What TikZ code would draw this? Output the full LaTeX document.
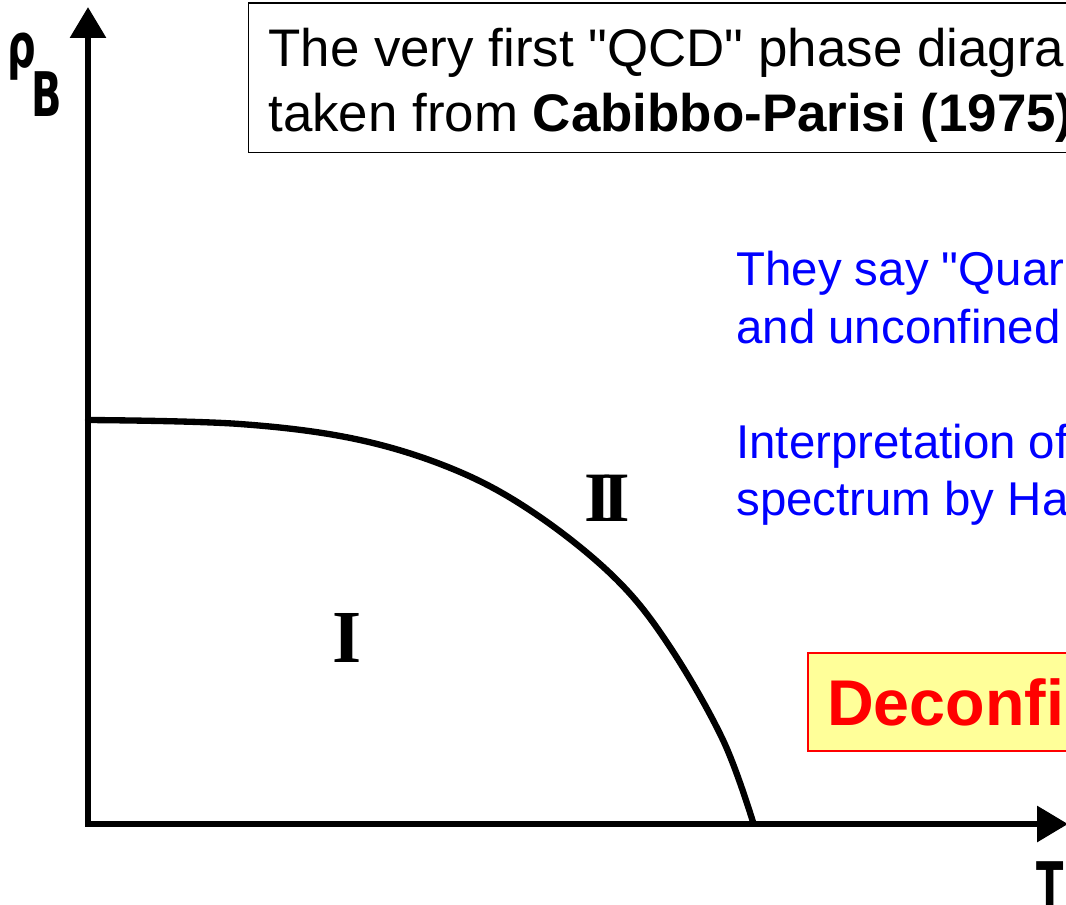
\documentclass[tikz,border=0pt]{standalone}
\usepackage{fontspec}
\setmainfont{Liberation Sans}[Ligatures=TeXOff]
\newfontfamily\scanfont{DejaVu Sans}
\newfontfamily\numeralfont{Liberation Serif}
\usetikzlibrary{arrows.meta}
\definecolor{notebg}{RGB}{255,255,153}

\begin{document}
\begin{tikzpicture}[
    x=0.02cm, y=-0.02cm,
    axis/.style={line width=3.5pt, line join=miter, {Triangle[length=17.6pt, width=19.9pt]}-{Triangle[length=17.6pt, width=19.9pt]}},
    border/.style={line width=3.6pt, line cap=round},
    axislabel/.style={font=\scanfont\bfseries\fontsize{35pt}{40pt}\selectfont, inner sep=0pt, anchor=base west},
    region/.style={font=\numeralfont\bfseries\fontsize{42.6pt}{48pt}\selectfont, inner sep=0pt},
    titlebox/.style={draw, line width=0.85pt, anchor=north west, minimum width=17cm, minimum height=3cm, inner sep=0pt},
    titleline/.style={font=\fontsize{30.1pt}{36.9pt}\selectfont, inner sep=0pt, anchor=base west},
    comment/.style={text=blue, font=\fontsize{27pt}{32.6pt}\selectfont, inner sep=0pt, anchor=base west},
    keyword/.style={draw=red, line width=1.1pt, fill=notebg, text=red, font=\bfseries\fontsize{36.8pt}{42pt}\selectfont, anchor=north west, minimum height=1.96cm, inner xsep=11pt, text width=8cm, align=left}
]
\useasboundingbox (0,0) rectangle (1066,904);
\clip (0,0) rectangle (1066,904);

% Axes
\coordinate (origin) at (88,824);
\coordinate (ytip) at (88,7);
\coordinate (xtip) at (1068,824);
\draw[axis] (ytip) -- (origin) -- (xtip);

\node[axislabel] (rhoB) at (7,67) {\scalebox{0.65}[1]{ρ\kern-0.1em\raisebox{-1cm}{B}}};
\node[axislabel] (Tlabel) at (1036,906) {\scalebox{0.65}[1]{T}};

% Phase boundary
\draw[border] plot[smooth, tension=0.6] coordinates {(88,420) (240,424) (360,440) (460,472) (540,517) (617,580) (670,647) (723,740) (753,822)};

% Regions
\node[region] (phaseI) at (347,638) {I};
\node[region] (phaseII) at (607,498) {\fontsize{40.3pt}{46pt}\selectfont I\kern-0.14em I};

% Title box
\node[titlebox] (frame) at (248,2) {};
\node[titleline] (title1) at (268,66) {The very first "QCD" phase diagra};
\node[titleline] (title2) at (268,131) {taken from \textbf{Cabibbo-Parisi (1975)}};

% Comments
\node[comment] (quarks1) at (736,285) {They say "Quar};
\node[comment] (quarks2) at (736,343) {and unconfined};
\node[comment] (hagedorn1) at (736,458) {Interpretation of};
\node[comment] (hagedorn2) at (736,515) {spectrum by Ha};

% Deconfinement
\node[keyword] (deconf) at (807,652) {Deconfi};

\end{tikzpicture}
\end{document}
